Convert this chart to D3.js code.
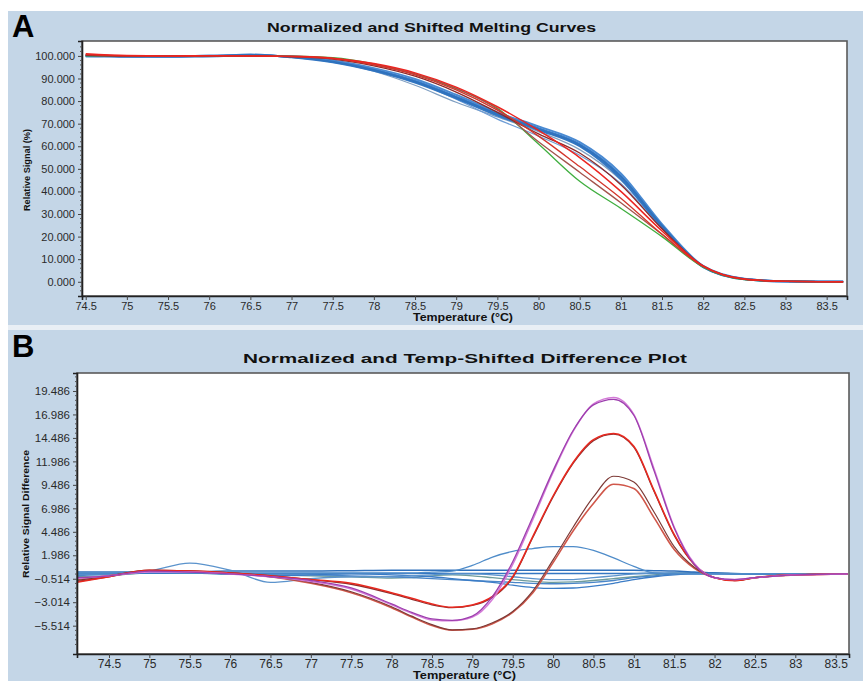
<!DOCTYPE html>
<html>
<head>
<meta charset="utf-8">
<script src="https://cdn.jsdelivr.net/npm/d3@7"></script>
<style>
  html, body { margin: 0; padding: 0; background: #fff; }
  svg { display: block; font-family: "Liberation Sans", Arial, sans-serif; }
</style>
</head>
<body>
<div id="chart"></div>
<script>
// ---- panel A : normalized and shifted melting curves ----
const tempsA = [74.5, 75, 75.5, 76, 76.5, 77, 77.5, 78, 78.5, 79, 79.5, 80, 80.5, 81, 81.5, 82, 82.5, 83, 83.7];
const blueA1 = [100, 99.8, 99.6, 100, 100.3, 99.6, 97.6, 94, 89, 82, 74.5, 68, 61, 47, 25, 6.8, 1.2, 0.2, 0];
const blueA2 = [100.4, 99.6, 99.9, 99.8, 100.6, 99.4, 97.2, 93.4, 88.2, 81.2, 73.6, 67.2, 60, 45.5, 24, 6.5, 1.1, 0.2, 0];
const blueA3 = [99.7, 100, 99.5, 100.2, 100.1, 99.8, 98, 94.6, 89.8, 82.8, 75, 68.8, 61.8, 48, 25.5, 7, 1.3, 0.1, 0];
const blueA4 = [100.1, 99.9, 99.8, 99.9, 100.4, 99.5, 97.4, 93.8, 88.6, 81.6, 74.2, 67.6, 60.5, 46.5, 24.8, 6.6, 1.2, 0.2, 0];
const thinBlueA = [100, 99.9, 99.8, 100, 100.2, 99.7, 97.8, 94, 88.6, 80.8, 72, 64.5, 56, 43.5, 23.5, 6.5, 1.2, 0.2, 0];
const greyBlueA = [100, 99.8, 99.7, 100, 100.2, 99.6, 97.5, 93.2, 87, 79.5, 73, 66.5, 58.5, 45, 24, 6.6, 1.2, 0.2, 0];
const greenA = [100, 100, 99.8, 100.1, 100, 99.9, 99.2, 96.5, 92, 85.5, 76.8, 61, 44.5, 32.5, 20, 6.5, 1, 0.2, 0];
const redA1 = [101, 100.2, 100, 100.1, 100, 99.8, 99, 96.6, 92.5, 86.2, 77.5, 67, 55, 40, 22.5, 7, 1.2, 0.2, 0];
const redA2 = [100.6, 100, 99.8, 100, 100, 99.7, 98.8, 96, 91.6, 85, 76, 64.5, 51, 37, 21, 6.8, 1.1, 0.2, 0];
const redA3 = [100.2, 99.9, 99.9, 100, 99.9, 99.6, 98.6, 95.6, 91, 84, 75, 65.5, 57, 43, 23.5, 7, 1.2, 0.2, 0];
const redA4 = [100.4, 100, 100, 100, 100, 99.8, 98.9, 96.2, 92, 85.6, 76.5, 62, 48.5, 35, 21, 6.8, 1.1, 0.2, 0];

const xTicksA = [74.5, 75, 75.5, 76, 76.5, 77, 77.5, 78, 78.5, 79, 79.5, 80, 80.5, 81, 81.5, 82, 82.5, 83, 83.5];
const yTicksA = [0, 10, 20, 30, 40, 50, 60, 70, 80, 90, 100];

// ---- panel B : difference plot ----
const tempsB = [74.1, 74.5, 75, 75.5, 76, 76.5, 77, 77.5, 78, 78.25, 78.5, 78.75, 79, 79.25, 79.5, 79.75, 80, 80.25, 80.5, 80.75, 81, 81.25, 81.5, 81.75, 82, 82.25, 82.5, 83, 83.65];
const purpleB1 = [-0.4, -0.2, 0.3, 0.2, 0, -0.3, -0.7, -1.5, -3.2, -4.1, -4.8, -4.95, -4.5, -2.4, 1.3, 6.1, 11, 15.3, 18, 18.6, 16.9, 11, 4.9, 1, -0.4, -0.6, -0.4, -0.1, 0];
const purpleB2 = [-0.5, -0.2, 0.2, 0.2, 0, -0.3, -0.8, -1.6, -3.3, -4.2, -4.9, -5.0, -4.6, -2.7, 1.0, 5.8, 10.8, 15.2, 18.1, 18.8, 17.0, 11.2, 5.0, 1.1, -0.4, -0.6, -0.4, -0.1, 0];
const redB1 = [-0.9, -0.3, 0.4, 0.3, 0.1, -0.2, -0.6, -1.0, -2.0, -2.6, -3.2, -3.55, -3.3, -2.4, -0.3, 4.0, 8.3, 11.9, 14.3, 14.95, 13.6, 8.9, 4.2, 1.0, -0.4, -0.7, -0.4, -0.1, 0];
const redB2 = [-0.8, -0.3, 0.3, 0.3, 0.1, -0.2, -0.6, -1.1, -2.1, -2.7, -3.3, -3.6, -3.35, -2.5, -0.4, 3.9, 8.2, 11.8, 14.2, 14.9, 13.5, 8.8, 4.1, 1.0, -0.4, -0.7, -0.4, -0.1, 0];
const brownB1 = [-0.7, -0.2, 0.4, 0.3, 0.1, -0.3, -0.9, -1.9, -3.5, -4.5, -5.4, -5.95, -5.85, -5.2, -4.0, -1.8, 1.5, 5.0, 8.2, 10.4, 9.8, 6.6, 2.9, 0.7, -0.4, -0.7, -0.4, -0.1, 0];
const brownB2 = [-0.6, -0.2, 0.3, 0.3, 0.1, -0.3, -1.0, -2.0, -3.6, -4.6, -5.5, -6.0, -5.9, -5.3, -4.1, -2.0, 1.2, 4.6, 7.5, 9.55, 9.1, 6.0, 2.6, 0.6, -0.4, -0.7, -0.4, -0.1, 0];
const blueB1 = [0.1, 0.1, 0.2, 0.1, 0.1, 0.1, 0.1, 0.1, 0.1, 0.1, 0.2, 0.3, 0.9, 1.8, 2.4, 2.7, 2.9, 2.9, 2.5, 1.7, 0.8, 0.1, 0, 0, 0, 0, 0, 0, 0];
const blueB2 = [-0.1, -0.1, 0.3, 1.15, 0.4, -0.9, -0.5, -0.3, -0.3, -0.2, -0.1, 0, 0, -0.1, -0.3, -0.5, -0.6, -0.6, -0.4, -0.2, 0, 0.1, 0.1, 0, 0, 0, 0, 0, 0];
const blueB3 = [0.2, 0.2, 0.2, 0.2, 0.3, 0.3, 0.3, 0.35, 0.4, 0.4, 0.4, 0.4, 0.4, 0.4, 0.4, 0.4, 0.4, 0.4, 0.4, 0.4, 0.4, 0.35, 0.3, 0.2, 0.1, 0.05, 0, 0, 0];
const blueB4 = [0, 0, 0.1, 0.1, 0.05, 0.05, 0.05, 0.05, 0.05, 0.05, 0.05, 0.05, 0.05, 0.05, 0.05, 0.05, 0.05, 0.05, 0.05, 0.05, 0.05, 0.05, 0.05, 0.05, 0.05, 0, 0, 0, 0];
const blueB5 = [-0.2, 0, 0.1, 0.1, 0, -0.2, -0.1, 0, -0.1, -0.2, -0.3, -0.5, -0.7, -0.9, -1.2, -1.45, -1.55, -1.5, -1.3, -1.0, -0.6, -0.3, -0.1, 0, 0, 0, 0, 0, 0];
const blueB6 = [0, 0, 0.1, 0.1, 0, -0.1, -0.1, -0.2, -0.3, -0.4, -0.5, -0.6, -0.7, -0.8, -0.9, -1.0, -1.05, -1.0, -0.9, -0.7, -0.4, -0.2, 0, 0.1, 0.1, 0, 0, 0, 0];
const tealB = [-0.3, -0.2, 0.1, 0.1, 0, -0.1, -0.2, -0.3, -0.45, -0.4, -0.2, -0.1, -0.2, -0.4, -0.6, -0.8, -0.9, -0.85, -0.7, -0.5, -0.3, -0.1, 0.1, 0.1, 0.1, 0, 0, 0, 0];

const xTicksB = [74.5, 75, 75.5, 76, 76.5, 77, 77.5, 78, 78.5, 79, 79.5, 80, 80.5, 81, 81.5, 82, 82.5, 83, 83.5];
const yTicksB = [-5.514, -3.014, -0.514, 1.986, 4.486, 6.986, 9.486, 11.986, 14.486, 16.986, 19.486];

const W = 863, H = 681;
const svg = d3.select("#chart").append("svg").attr("width", W).attr("height", H);

// backgrounds
svg.append("rect").attr("x", 0).attr("y", 0).attr("width", W).attr("height", H).attr("fill", "#ffffff");
svg.append("rect").attr("x", 8).attr("y", 11).attr("width", W - 8).attr("height", 314).attr("fill", "#c4d6e7");
svg.append("rect").attr("x", 8).attr("y", 325).attr("width", W - 8).attr("height", 5).attr("fill", "#e9eff5");
svg.append("rect").attr("x", 8).attr("y", 330).attr("width", W - 8).attr("height", H - 330).attr("fill", "#c4d6e7");

function panel(opt) {
    const x = d3.scaleLinear().domain(opt.xDomain).range([opt.left, opt.right]);
    const y = d3.scaleLinear().domain(opt.yDomain).range([opt.bottom, opt.top]);
    const g = svg.append("g");

    g.append("rect")
        .attr("x", opt.left).attr("y", opt.top)
        .attr("width", opt.right - opt.left).attr("height", opt.bottom - opt.top)
        .attr("fill", "#fff").attr("stroke", "#5a5a5a").attr("stroke-width", 1.6);

    const clipId = "clip" + opt.name;
    svg.append("clipPath").attr("id", clipId).append("rect")
        .attr("x", opt.left).attr("y", opt.top)
        .attr("width", opt.right - opt.left).attr("height", opt.bottom - opt.top);

    const line = d3.line()
        .x((d, i) => x(opt.temps[i]))
        .y(d => y(d))
        .curve(d3.curveMonotoneX);

    const lines = g.append("g").attr("clip-path", "url(#" + clipId + ")");
    opt.series.forEach(s => {
        lines.append("path")
            .attr("d", line(s.values))
            .attr("fill", "none")
            .attr("stroke", s.color)
            .attr("stroke-width", s.width)
            .attr("stroke-linejoin", "round");
    });

    // x axis
    const xAxis = d3.axisBottom(x).tickValues(opt.xTicks).tickSize(4).tickFormat(d3.format("~g"));
    const xa = g.append("g").attr("transform", "translate(0," + opt.bottom + ")").call(xAxis);
    xa.select(".domain").attr("stroke", "#222").attr("stroke-width", 1.6);
    xa.selectAll(".tick line").attr("stroke", "#444");
    xa.selectAll(".tick text").attr("font-size", opt.fs).attr("fill", "#2a2a2a").attr("dy", opt.xdy)
        .attr("font-family", "'Liberation Sans', Arial, sans-serif");

    // y axis
    const yAxis = d3.axisLeft(y).tickValues(opt.yTicks).tickSize(4).tickFormat(d3.format(".3f"));
    const ya = g.append("g").attr("transform", "translate(" + opt.left + ",0)").call(yAxis);
    ya.select(".domain").attr("stroke", "#222").attr("stroke-width", 1.6);
    ya.selectAll(".tick line").attr("stroke", "#444");
    ya.selectAll(".tick text").attr("font-size", opt.yfs).attr("fill", "#2a2a2a")
        .attr("font-family", "'Liberation Sans', Arial, sans-serif");

    // minor y ticks
    const step = opt.yTicks[1] - opt.yTicks[0];
    const minors = [];
    for (let k = 0; k < opt.yTicks.length; k++) {
        for (let m = 1; m < 5; m++) {
            const v = opt.yTicks[k] + (m * step) / 5;
            if (y(v) > opt.top + 2) minors.push(v);
        }
    }
    for (let m = 1; m < 5; m++) {
        const v = opt.yTicks[0] - (m * step) / 5;
        if (y(v) < opt.bottom - 2) minors.push(v);
    }
    g.selectAll(".minor" + opt.name).data(minors).enter().append("line")
        .attr("x1", opt.left - 2).attr("x2", opt.left)
        .attr("y1", d => y(d)).attr("y2", d => y(d))
        .attr("stroke", "#555").attr("stroke-width", 1);

    // titles
    svg.append("text").attr("x", opt.titleX).attr("y", opt.titleY)
        .attr("font-size", 12).attr("font-weight", "bold").attr("fill", "#111")
        .attr("textLength", opt.titleLen).attr("lengthAdjust", "spacingAndGlyphs")
        .text(opt.title);
    svg.append("text").attr("x", opt.xTitleX).attr("y", opt.xTitleY)
        .attr("font-size", 10).attr("font-weight", "bold").attr("fill", "#111")
        .attr("textLength", opt.xTitleLen).attr("lengthAdjust", "spacingAndGlyphs")
        .text("Temperature (°C)");
    svg.append("text")
        .attr("transform", "translate(" + opt.yTitleX + "," + opt.yTitleY + ") rotate(-90)")
        .attr("text-anchor", "middle")
        .attr("font-size", 9.5).attr("font-weight", "bold").attr("fill", "#111")
        .attr("textLength", opt.yTitleLen).attr("lengthAdjust", "spacingAndGlyphs")
        .text(opt.yTitle);
    svg.append("text").attr("x", 12).attr("y", opt.letterY)
        .attr("font-size", 31).attr("font-weight", "bold").attr("fill", "#000")
        .text(opt.letter);
}

panel({
    name: "A", letter: "A", letterY: 37,
    temps: tempsA,
    xDomain: [74.455, 83.747], yDomain: [-6.3, 106.6],
    left: 82, right: 847, top: 41, bottom: 296,
    xTicks: xTicksA, yTicks: yTicksA, fs: 11, yfs: 11, xdy: "0.6em",
    title: "Normalized and Shifted Melting Curves", titleX: 267, titleY: 32, titleLen: 329,
    xTitleX: 413, xTitleY: 321, xTitleLen: 100,
    yTitle: "Relative Signal (%)", yTitleX: 30, yTitleY: 170, yTitleLen: 82,
    series: [
        { values: greyBlueA, color: "#7f9fc2", width: 1.2 },
        { values: thinBlueA, color: "#6f9ed6", width: 1.2 },
        { values: blueA1, color: "#3d7fcb", width: 2 },
        { values: blueA2, color: "#3478c4", width: 2 },
        { values: blueA3, color: "#4a8ad2", width: 2 },
        { values: blueA4, color: "#2f72bd", width: 2 },
        { values: greenA, color: "#3fae3f", width: 1.3 },
        { values: redA4, color: "#a4534c", width: 1.3 },
        { values: redA3, color: "#8b2a2a", width: 1.3 },
        { values: redA2, color: "#d3352b", width: 1.3 },
        { values: redA1, color: "#ec2420", width: 1.5 }
    ]
});

panel({
    name: "B", letter: "B", letterY: 357,
    temps: tempsB,
    xDomain: [74.104, 83.665], yDomain: [-8.53, 21.40],
    left: 77, right: 849, top: 373, bottom: 654,
    xTicks: xTicksB, yTicks: yTicksB, fs: 12, yfs: 11.5, xdy: "0.55em",
    title: "Normalized and Temp-Shifted Difference Plot", titleX: 243, titleY: 363, titleLen: 444,
    xTitleX: 413, xTitleY: 679, xTitleLen: 103,
    yTitle: "Relative Signal Difference", yTitleX: 29, yTitleY: 514, yTitleLen: 128,
    series: [
        { values: tealB, color: "#6e9c9c", width: 1.3 },
        { values: blueB6, color: "#4a86c8", width: 1.3 },
        { values: blueB5, color: "#3b7cc6", width: 1.3 },
        { values: blueB4, color: "#3577c2", width: 1.5 },
        { values: blueB3, color: "#2f70bb", width: 1.5 },
        { values: blueB2, color: "#5b93cc", width: 1.3 },
        { values: blueB1, color: "#4f8cc9", width: 1.3 },
        { values: brownB2, color: "#d0574a", width: 1.6 },
        { values: brownB1, color: "#7d3a36", width: 1.2 },
        { values: redB2, color: "#8a3030", width: 1.3 },
        { values: redB1, color: "#e8291f", width: 1.5 },
        { values: purpleB2, color: "#d47ad8", width: 1.5 },
        { values: purpleB1, color: "#9d3fae", width: 1.3 }
    ]
});
</script>
</body>
</html>
